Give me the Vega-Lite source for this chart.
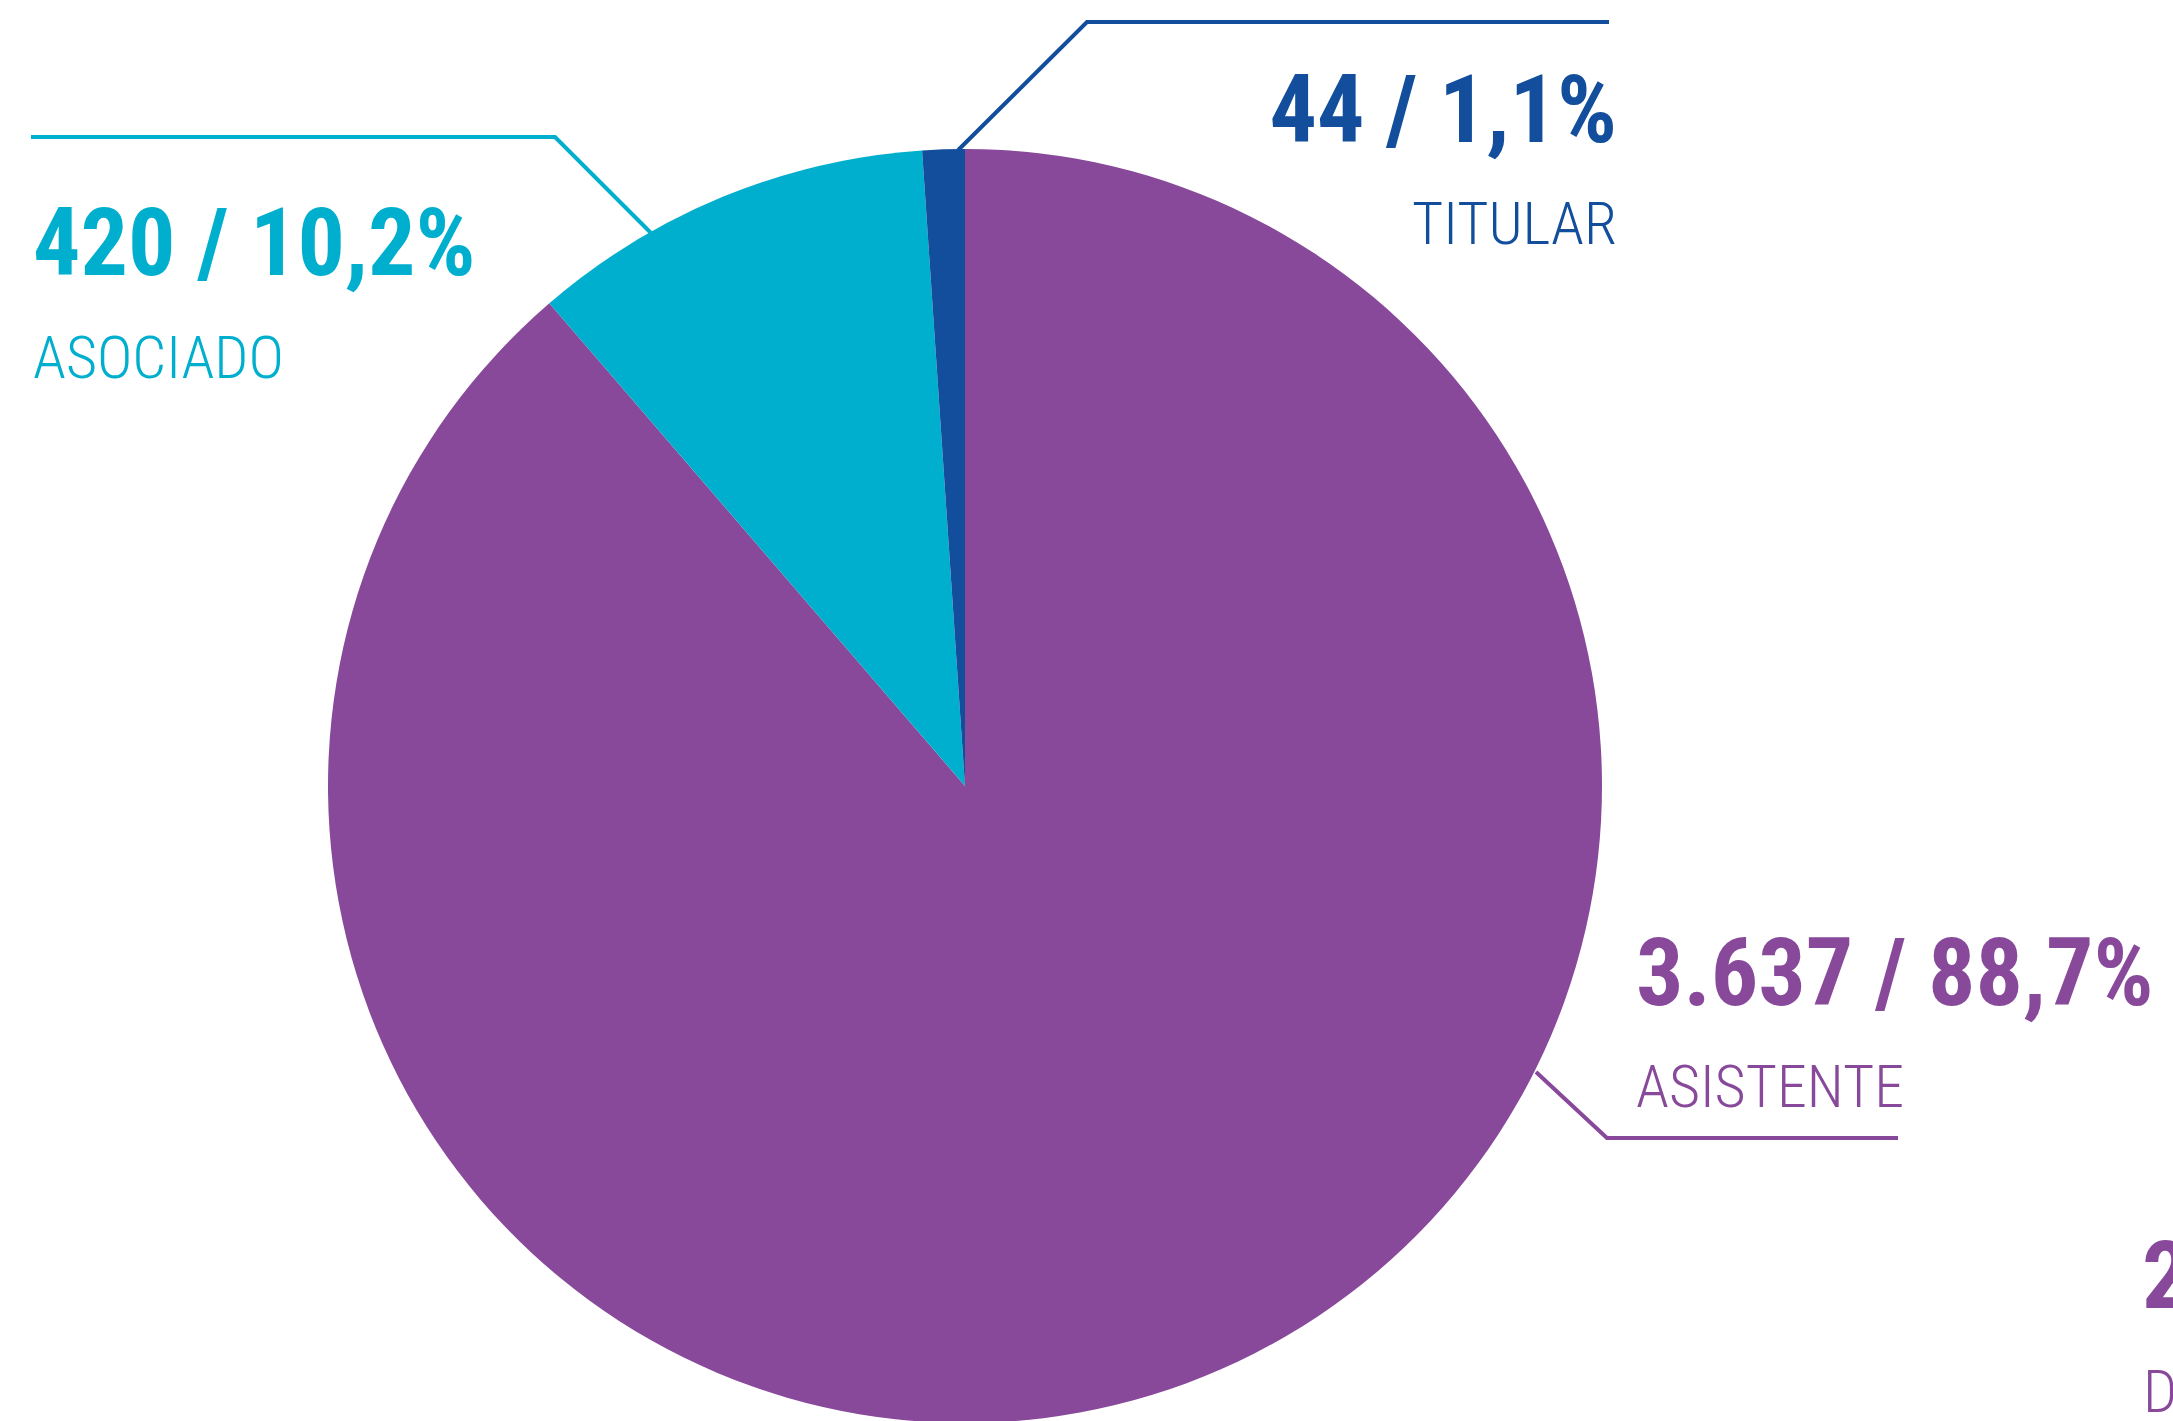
{
  "$schema": "https://vega.github.io/schema/vega-lite/v6.json",
  "width": 2173,
  "height": 1421,
  "autosize": {"type": "none"},
  "padding": 0,
  "background": "white",
  "config": {"view": {"stroke": null}},
  "datasets": {
    "sectores": [
      {"categoria": "Asistente", "valor": 3637, "orden": 1},
      {"categoria": "Asociado", "valor": 420, "orden": 2},
      {"categoria": "Titular", "valor": 44, "orden": 3}
    ],
    "guias": [
      {"categoria": "Titular", "paso": 1, "u": -0.011, "v": 0.998},
      {"categoria": "Titular", "paso": 2, "u": 0.1915, "v": 1.1994},
      {"categoria": "Titular", "paso": 3, "u": 1.011, "v": 1.1994},
      {"categoria": "Asociado", "paso": 1, "u": -0.4929, "v": 0.8681},
      {"categoria": "Asociado", "paso": 2, "u": -0.6436, "v": 1.0188},
      {"categoria": "Asociado", "paso": 3, "u": -1.4663, "v": 1.0188},
      {"categoria": "Asistente", "paso": 1, "u": 0.8964, "v": -0.449},
      {"categoria": "Asistente", "paso": 2, "u": 1.0078, "v": -0.5526},
      {"categoria": "Asistente", "paso": 3, "u": 1.4647, "v": -0.5526}
    ],
    "cifras": [
      {"categoria": "Titular", "texto": "44 / 1,1%", "u": 1.0235, "v": 1.011},
      {"categoria": "Asociado", "texto": "420 / 10,2%", "u": -1.4631, "v": 0.8022},
      {"categoria": "Asistente", "texto": "3.637 / 88,7%", "u": 1.0534, "v": -0.3438},
      {"categoria": "Otro", "texto": "2", "u": 1.8477, "v": -0.8195}
    ],
    "nombres": [
      {"categoria": "Titular", "texto": "TITULAR", "u": 1.0235, "v": 0.8509},
      {"categoria": "Asociado", "texto": "ASOCIADO", "u": -1.4631, "v": 0.6405},
      {"categoria": "Asistente", "texto": "ASISTENTE", "u": 1.0534, "v": -0.5039},
      {"categoria": "Otro", "texto": "D", "u": 1.8493, "v": -0.9827}
    ]
  },
  "layer": [
    {
      "data": {"name": "sectores"},
      "mark": {"type": "arc", "outerRadius": 637},
      "encoding": {
        "theta": {"field": "valor", "type": "quantitative", "stack": true},
        "order": {"field": "orden", "type": "quantitative"},
        "color": {"field": "categoria", "type": "nominal", "legend": null,
          "scale": {"domain": ["Asistente", "Asociado", "Titular", "Otro"], "range": ["#88499B", "#00AFCE", "#124E9C", "#88499B"]}},
        "x": {"datum": 0, "type": "quantitative", "axis": null, "scale": {"domain": [-1.5149, 1.8964], "nice": false, "zero": false}},
        "y": {"datum": 0, "type": "quantitative", "axis": null, "scale": {"domain": [-0.9969, 1.2339], "nice": false, "zero": false}}
      }
    },
    {
      "data": {"name": "guias"},
      "mark": {"type": "line", "strokeWidth": 4, "strokeJoin": "miter", "strokeCap": "butt"},
      "encoding": {
        "x": {"field": "u", "type": "quantitative", "axis": null, "scale": {"domain": [-1.5149, 1.8964], "nice": false, "zero": false}},
        "y": {"field": "v", "type": "quantitative", "axis": null, "scale": {"domain": [-0.9969, 1.2339], "nice": false, "zero": false}},
        "order": {"field": "paso", "type": "quantitative"},
        "color": {"field": "categoria", "type": "nominal", "legend": null}
      }
    },
    {
      "data": {"name": "cifras"},
      "transform": [{"filter": "datum.categoria !== 'Titular'"}],
      "mark": {"type": "text", "align": "left", "baseline": "alphabetic", "font": "Noto Sans ExtraCondensed, Noto Sans Condensed, Roboto Condensed, Open Sans Condensed, Roboto", "fontWeight": "bold", "fontSize": 94},
      "encoding": {
        "x": {"field": "u", "type": "quantitative", "axis": null, "scale": {"domain": [-1.5149, 1.8964], "nice": false, "zero": false}},
        "y": {"field": "v", "type": "quantitative", "axis": null, "scale": {"domain": [-0.9969, 1.2339], "nice": false, "zero": false}},
        "text": {"field": "texto"},
        "color": {"field": "categoria", "type": "nominal", "legend": null}
      }
    },
    {
      "data": {"name": "cifras"},
      "transform": [{"filter": "datum.categoria === 'Titular'"}],
      "mark": {"type": "text", "align": "right", "baseline": "alphabetic", "font": "Noto Sans ExtraCondensed, Noto Sans Condensed, Roboto Condensed, Open Sans Condensed, Roboto", "fontWeight": "bold", "fontSize": 94},
      "encoding": {
        "x": {"field": "u", "type": "quantitative", "axis": null, "scale": {"domain": [-1.5149, 1.8964], "nice": false, "zero": false}},
        "y": {"field": "v", "type": "quantitative", "axis": null, "scale": {"domain": [-0.9969, 1.2339], "nice": false, "zero": false}},
        "text": {"field": "texto"},
        "color": {"field": "categoria", "type": "nominal", "legend": null}
      }
    },
    {
      "data": {"name": "nombres"},
      "transform": [{"filter": "datum.categoria !== 'Titular'"}],
      "mark": {"type": "text", "align": "left", "baseline": "alphabetic", "font": "Noto Sans ExtraCondensed, Noto Sans Condensed, Roboto Condensed, Open Sans Condensed, Roboto", "fontWeight": 300, "fontSize": 60},
      "encoding": {
        "x": {"field": "u", "type": "quantitative", "axis": null, "scale": {"domain": [-1.5149, 1.8964], "nice": false, "zero": false}},
        "y": {"field": "v", "type": "quantitative", "axis": null, "scale": {"domain": [-0.9969, 1.2339], "nice": false, "zero": false}},
        "text": {"field": "texto"},
        "color": {"field": "categoria", "type": "nominal", "legend": null}
      }
    },
    {
      "data": {"name": "nombres"},
      "transform": [{"filter": "datum.categoria === 'Titular'"}],
      "mark": {"type": "text", "align": "right", "baseline": "alphabetic", "font": "Noto Sans ExtraCondensed, Noto Sans Condensed, Roboto Condensed, Open Sans Condensed, Roboto", "fontWeight": 300, "fontSize": 60},
      "encoding": {
        "x": {"field": "u", "type": "quantitative", "axis": null, "scale": {"domain": [-1.5149, 1.8964], "nice": false, "zero": false}},
        "y": {"field": "v", "type": "quantitative", "axis": null, "scale": {"domain": [-0.9969, 1.2339], "nice": false, "zero": false}},
        "text": {"field": "texto"},
        "color": {"field": "categoria", "type": "nominal", "legend": null}
      }
    }
  ]
}
